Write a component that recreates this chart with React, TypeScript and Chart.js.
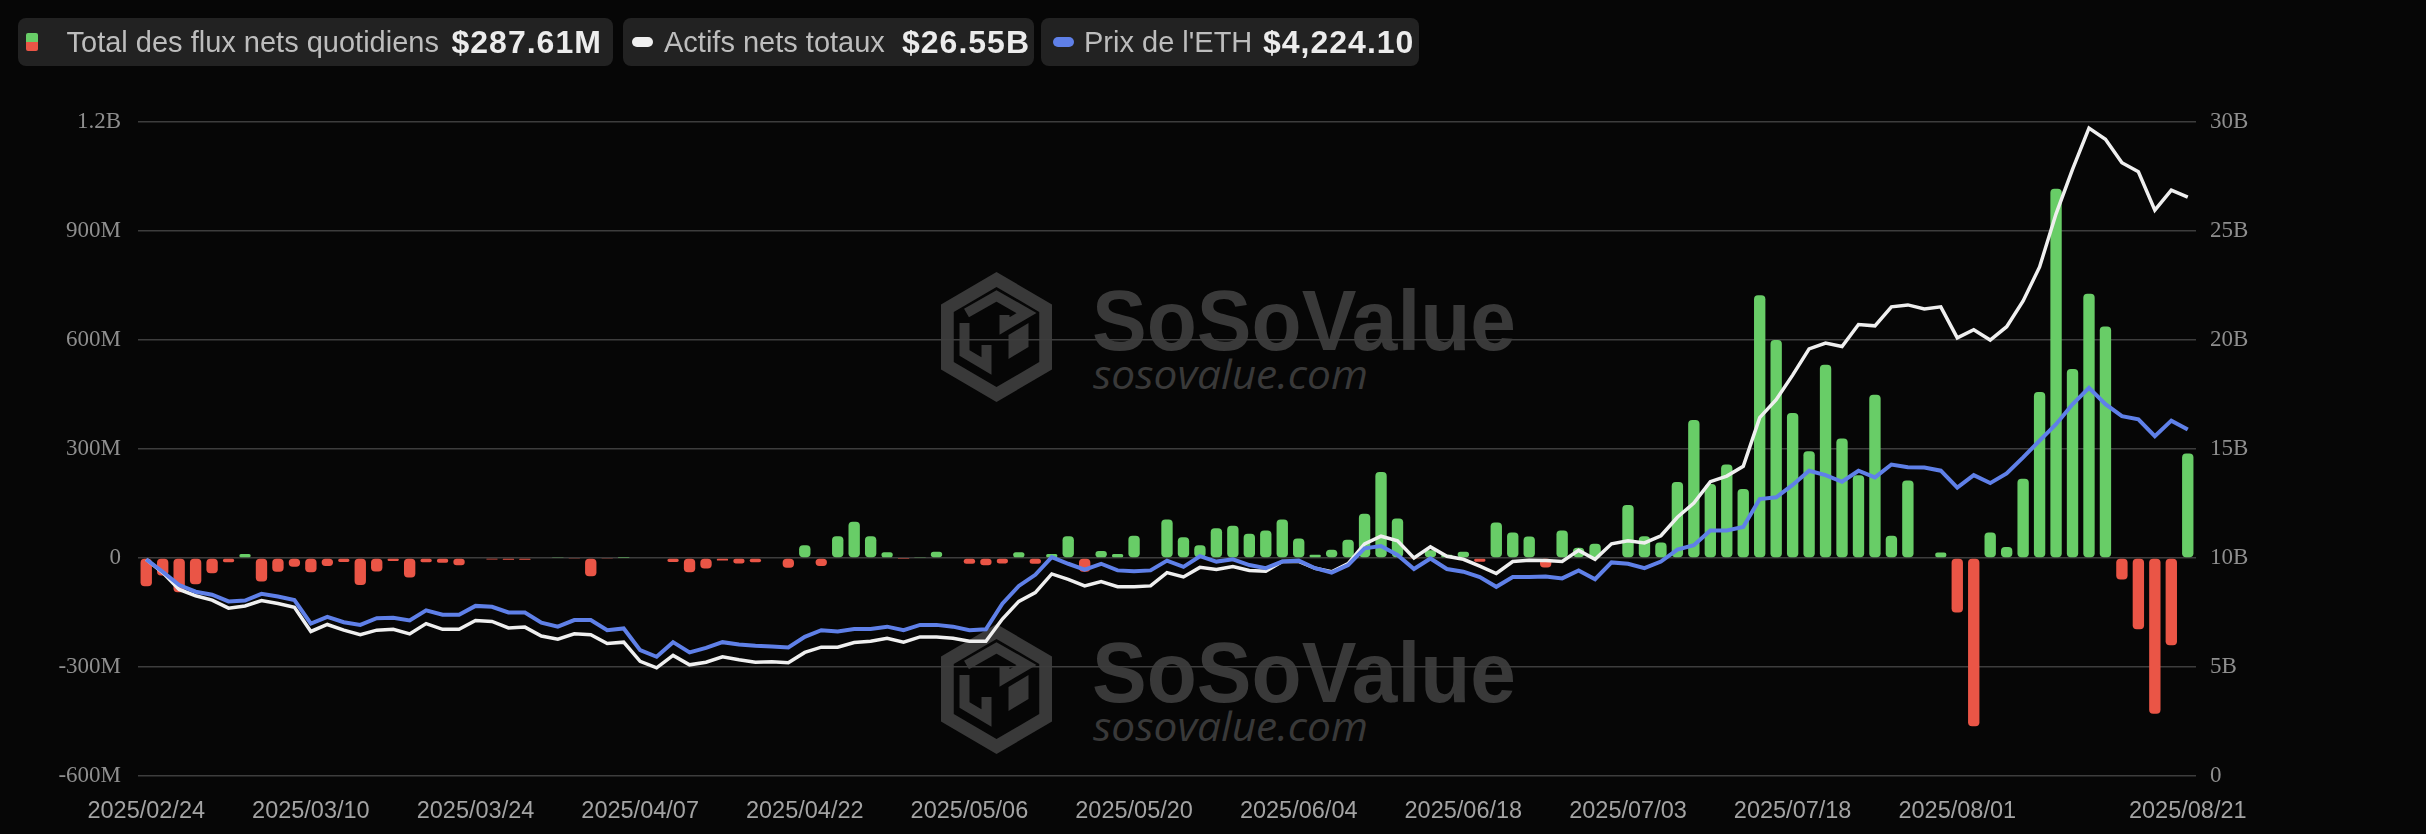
import React, { useEffect, useRef } from 'react';
import { Chart, registerables } from 'chart.js';

Chart.register(...registerables);

// Trading days (x categories)
const dates: string[] = [
  '2025/02/24', '2025/02/25', '2025/02/26', '2025/02/27', '2025/02/28',
  '2025/03/03', '2025/03/04', '2025/03/05', '2025/03/06', '2025/03/07',
  '2025/03/10', '2025/03/11', '2025/03/12', '2025/03/13', '2025/03/14',
  '2025/03/17', '2025/03/18', '2025/03/19', '2025/03/20', '2025/03/21',
  '2025/03/24', '2025/03/25', '2025/03/26', '2025/03/27', '2025/03/28',
  '2025/03/31', '2025/04/01', '2025/04/02', '2025/04/03', '2025/04/04',
  '2025/04/07', '2025/04/08', '2025/04/09', '2025/04/10', '2025/04/11',
  '2025/04/14', '2025/04/15', '2025/04/16', '2025/04/17', '2025/04/21',
  '2025/04/22', '2025/04/23', '2025/04/24', '2025/04/25', '2025/04/28',
  '2025/04/29', '2025/04/30', '2025/05/01', '2025/05/02', '2025/05/05',
  '2025/05/06', '2025/05/07', '2025/05/08', '2025/05/09', '2025/05/12',
  '2025/05/13', '2025/05/14', '2025/05/15', '2025/05/16', '2025/05/19',
  '2025/05/20', '2025/05/21', '2025/05/22', '2025/05/23', '2025/05/27',
  '2025/05/28', '2025/05/29', '2025/05/30', '2025/06/02', '2025/06/03',
  '2025/06/04', '2025/06/05', '2025/06/06', '2025/06/09', '2025/06/10',
  '2025/06/11', '2025/06/12', '2025/06/13', '2025/06/16', '2025/06/17',
  '2025/06/18', '2025/06/20', '2025/06/23', '2025/06/24', '2025/06/25',
  '2025/06/26', '2025/06/27', '2025/06/30', '2025/07/01', '2025/07/02',
  '2025/07/03', '2025/07/07', '2025/07/08', '2025/07/09', '2025/07/10',
  '2025/07/11', '2025/07/14', '2025/07/15', '2025/07/16', '2025/07/17',
  '2025/07/18', '2025/07/21', '2025/07/22', '2025/07/23', '2025/07/24',
  '2025/07/25', '2025/07/28', '2025/07/29', '2025/07/30', '2025/07/31',
  '2025/08/01', '2025/08/04', '2025/08/05', '2025/08/06', '2025/08/07',
  '2025/08/08', '2025/08/11', '2025/08/12', '2025/08/13', '2025/08/14',
  '2025/08/15', '2025/08/18', '2025/08/19', '2025/08/20', '2025/08/21',
];

// Daily total net flow (USD millions)
const netFlowsM: number[] = [
  -78, -48, -94, -72, -42, -12, 11, -65, -38, -24,
  -39, -22, -11, -74, -37, -8, -54, -12, -13, -20,
  0, -4, -5, -5, 2, 3, -3, -50, -3, 1,
  0, -2, -11, -39, -29, -7, -15, -12, 0, -27,
  35, -22, 60, 100, 60, 16, -1, 3, 17, 0,
  -16, -20, -15, 16, -16, 11, 60, -38, 19, 11,
  61, 0, 106, 57, 35, 82, 89, 67, 76, 106,
  54, 9, 23, 50, 122, 237, 109, -3, 21, 9,
  17, -10, 98, 70, 59, -26, 76, 28, 39, -2,
  146, 60, 43, 209, 380, 204, 257, 190, 723, 600,
  399, 294, 532, 329, 228, 449, 61, 213, 2, 15,
  -150, -463, 70, 30, 218, 457, 1016, 520, 727, 637,
  -59, -196, -429, -240, 287.61,
];

// Total net assets (USD billions)
const totalAssetsB: number[] = [
  9.94, 9.33, 8.56, 8.27, 8.07, 7.70, 7.80, 8.05, 7.91, 7.74,
  6.63, 6.95, 6.69, 6.48, 6.69, 6.73, 6.52, 6.99, 6.73, 6.73,
  7.13, 7.09, 6.79, 6.83, 6.42, 6.28, 6.52, 6.48, 6.08, 6.14,
  5.26, 4.96, 5.53, 5.10, 5.22, 5.47, 5.33, 5.22, 5.24, 5.20,
  5.67, 5.91, 5.91, 6.12, 6.18, 6.32, 6.14, 6.38, 6.38, 6.32,
  6.18, 6.18, 7.20, 8.01, 8.41, 9.27, 9.02, 8.72, 8.92, 8.68,
  8.68, 8.72, 9.33, 9.13, 9.57, 9.47, 9.61, 9.43, 9.39, 9.84,
  9.84, 9.53, 9.37, 9.74, 10.65, 11.00, 10.79, 10.00, 10.51, 10.08,
  9.94, 9.63, 9.29, 9.84, 9.90, 9.88, 9.84, 10.35, 9.94, 10.65,
  10.79, 10.69, 11.02, 11.87, 12.52, 13.50, 13.76, 14.21, 16.44, 17.26,
  18.39, 19.59, 19.86, 19.70, 20.71, 20.65, 21.52, 21.61, 21.42, 21.52,
  20.10, 20.47, 20.00, 20.61, 21.79, 23.35, 25.79, 27.83, 29.72, 29.21,
  28.13, 27.72, 25.96, 26.87, 26.55,
];

// ETH price (USD)
const ethPriceUSD: number[] = [
  2558, 2399, 2228, 2142, 2103, 2017, 2029, 2114, 2080, 2034,
  1733, 1818, 1750, 1716, 1801, 1807, 1773, 1903, 1847, 1847,
  1960, 1949, 1875, 1875, 1744, 1693, 1778, 1778, 1647, 1670,
  1391, 1306, 1494, 1363, 1420, 1494, 1465, 1448, 1437, 1425,
  1562, 1647, 1630, 1664, 1664, 1693, 1647, 1716, 1716, 1693,
  1647, 1659, 1989, 2216, 2359, 2586, 2501, 2427, 2501, 2416,
  2404, 2416, 2541, 2461, 2598, 2529, 2558, 2484, 2444, 2529,
  2541, 2444, 2387, 2484, 2700, 2729, 2615, 2433, 2569, 2433,
  2399, 2330, 2205, 2330, 2330, 2336, 2313, 2416, 2302, 2518,
  2501, 2444, 2529, 2683, 2740, 2928, 2928, 2973, 3332, 3355,
  3514, 3696, 3639, 3554, 3696, 3611, 3776, 3742, 3736, 3696,
  3480, 3639, 3537, 3662, 3867, 4083, 4294, 4550, 4760, 4550,
  4396, 4356, 4140, 4339, 4224.10,
];

const legendLabels = ['Total des flux nets quotidiens', 'Actifs nets totaux', "Prix de l'ETH"];
const legendValues = ['$287.61M', '$26.55B', '$4,224.10'];

const GREEN = '#68cd67';
const RED = '#ea5546';
const WHITE_LINE = '#efefef';
const BLUE_LINE = '#5f80e8';
const BG = '#060606';
const WM = '#393939';

const serif = "'Liberation Serif', 'Times New Roman', serif";
const sans = "'Liberation Sans', Arial, Helvetica, sans-serif";

function fmtLeft(v: number): string {
  if (v === 0) return '0';
  if (Math.abs(v) >= 1000) return `${v / 1000}B`;
  return `${v}M`;
}

function Watermark({ dy }: { dy: number }) {
  const cx = 996.5;
  const top = 272 + dy;
  const w = 55.5;
  const h = 130;
  const outer = [
    [cx, top], [cx + w, top + h * 0.25], [cx + w, top + h * 0.75],
    [cx, top + h], [cx - w, top + h * 0.75], [cx - w, top + h * 0.25],
  ];
  const s = 0.77;
  const cy = top + h / 2;
  const inner = outer.map(([x, y]) => [cx + (x - cx) * s, cy + (y - cy) * s]);
  const path = (pts: number[][]) => 'M' + pts.map((p) => p.join(',')).join('L') + 'Z';
  return (
    <g>
      <path d={path(outer) + path(inner)} fill={WM} fillRule="evenodd" />
      <path
        d={`M${cx - 30},${cy - 24} L${cx},${cy - 41} L${cx + 30},${cy - 24} L${cx + 8},${cy - 11} L${cx + 8},${cy - 22}`}
        fill="none" stroke={WM} strokeWidth={10} strokeLinejoin="miter"
      />
      <path
        d={`M${cx - 32},${cy - 14} L${cx - 32},${cy + 16} L${cx - 10},${cy + 29} L${cx - 10},${cy + 8}`}
        fill="none" stroke={WM} strokeWidth={10}
      />
      <path
        d={`M${cx + 12},${cy - 2} L${cx + 32},${cy - 14} L${cx + 32},${cy + 10} L${cx + 12},${cy + 22} Z`}
        fill={WM}
      />
      <text x={1092} y={350 + dy} fill={WM} fontFamily={sans} fontWeight={700} fontSize={86}
        textLength={424} lengthAdjust="spacingAndGlyphs">SoSoValue</text>
      <text x={1093} y={389 + dy} fill={WM} fontFamily="'Open Sans', 'Noto Sans', sans-serif" fontStyle="italic"
        fontSize={41} textLength={275} lengthAdjust="spacingAndGlyphs">sosovalue.com</text>
    </g>
  );
}

function LegendBox(props: {
  left: number; width: number; icon: React.ReactNode; labelLeft: number; valueLeft: number; label: string; value: string;
}) {
  return (
    <div style={{
      position: 'absolute', left: props.left, top: 18, width: props.width, height: 48,
      background: '#222222', borderRadius: 8,
    }}>
      {props.icon}
      <span style={{
        position: 'absolute', left: props.labelLeft, top: 0, lineHeight: '48px', whiteSpace: 'nowrap',
        fontFamily: sans, fontSize: 29, color: '#bdbdbd',
      }}>{props.label}</span>
      <span style={{
        position: 'absolute', left: props.valueLeft, top: 0, lineHeight: '48px', whiteSpace: 'nowrap',
        fontFamily: sans, fontSize: 32, fontWeight: 700, letterSpacing: 1, color: '#ececec',
      }}>{props.value}</span>
    </div>
  );
}

export default function App() {
  const canvasRef = useRef<HTMLCanvasElement | null>(null);

  useEffect(() => {
    if (!canvasRef.current) return;
    const chart = new Chart(canvasRef.current, {
      type: 'bar',
      data: {
        labels: dates,
        datasets: [
          {
            type: 'line',
            label: legendLabels[2],
            data: ethPriceUSD,
            yAxisID: 'yPrice',
            borderColor: BLUE_LINE,
            borderWidth: 4,
            pointRadius: 0,
            tension: 0,
            order: 1,
          } as any,
          {
            type: 'line',
            label: legendLabels[1],
            data: totalAssetsB,
            yAxisID: 'yAssets',
            borderColor: WHITE_LINE,
            borderWidth: 3.5,
            pointRadius: 0,
            tension: 0,
            order: 2,
          } as any,
          {
            type: 'bar',
            label: legendLabels[0],
            data: netFlowsM,
            yAxisID: 'y',
            backgroundColor: netFlowsM.map((v) => (v >= 0 ? GREEN : RED)),
            borderRadius: 4,
            borderSkipped: false,
            barPercentage: 0.69,
            categoryPercentage: 1,
            order: 3,
          } as any,
        ],
      },
      options: {
        animation: false,
        responsive: true,
        maintainAspectRatio: false,
        layout: { padding: { top: 122, left: 0, right: 0, bottom: 0 } },
        plugins: { legend: { display: false }, tooltip: { enabled: false } },
        scales: {
          x: {
            grid: { display: false },
            border: { display: false },
            ticks: {
              autoSkip: false,
              maxRotation: 0,
              minRotation: 0,
              color: '#a3a3a3',
              font: { family: sans, size: 23.5 },
              padding: 13,
              callback: (_v: any, i: number) =>
                (i % 10 === 0 && i <= 110) || i === dates.length - 1 ? dates[i] : '',
            },
            afterFit: (s: any) => { s.height = 58; },
          },
          y: {
            position: 'left',
            min: -600,
            max: 1200,
            ticks: {
              stepSize: 300,
              color: '#8e8e8e',
              font: { family: serif, size: 23 },
              padding: 17,
              callback: (v: any) => fmtLeft(Number(v)),
            },
            grid: { color: '#3d3d3d', lineWidth: 1.5, drawTicks: false },
            border: { display: false },
            afterFit: (s: any) => { s.width = 138; },
          },
          yAssets: {
            position: 'right',
            min: 0,
            max: 30,
            ticks: {
              stepSize: 5,
              color: '#8e8e8e',
              font: { family: serif, size: 23 },
              padding: 14,
              callback: (v: any) => (Number(v) === 0 ? '0' : `${v}B`),
            },
            grid: { drawOnChartArea: false, drawTicks: false },
            border: { display: false },
            afterFit: (s: any) => { s.width = 230; },
          },
          yPrice: { display: false, min: -225, max: 8175 },
        },
      } as any,
    });
    return () => chart.destroy();
  }, []);

  return (
    <div style={{ position: 'fixed', left: 0, top: 0, width: 2426, height: 834, background: BG, overflow: 'hidden' }}>
      <svg width={2426} height={834} style={{ position: 'absolute', left: 0, top: 0 }}>
        <Watermark dy={0} />
        <Watermark dy={352} />
      </svg>
      <div style={{ position: 'absolute', left: 0, top: 0, width: 2426, height: 834 }}>
        <canvas ref={canvasRef} />
      </div>
      <LegendBox
        left={18} width={595} labelLeft={48.5} valueLeft={433.5}
        label={legendLabels[0]} value={legendValues[0]}
        icon={
          <div style={{ position: 'absolute', left: 8, top: 15, width: 12, height: 18, borderRadius: 2, overflow: 'hidden' }}>
            <div style={{ height: 9, background: GREEN }} />
            <div style={{ height: 9, background: RED }} />
          </div>
        }
      />
      <LegendBox
        left={623} width={411} labelLeft={41} valueLeft={279}
        label={legendLabels[1]} value={legendValues[1]}
        icon={<div style={{ position: 'absolute', left: 9, top: 19, width: 21, height: 10, borderRadius: 5, background: WHITE_LINE }} />}
      />
      <LegendBox
        left={1041} width={378} labelLeft={43} valueLeft={222}
        label={legendLabels[2]} value={legendValues[2]}
        icon={<div style={{ position: 'absolute', left: 12, top: 19, width: 21, height: 10, borderRadius: 5, background: BLUE_LINE }} />}
      />
    </div>
  );
}
